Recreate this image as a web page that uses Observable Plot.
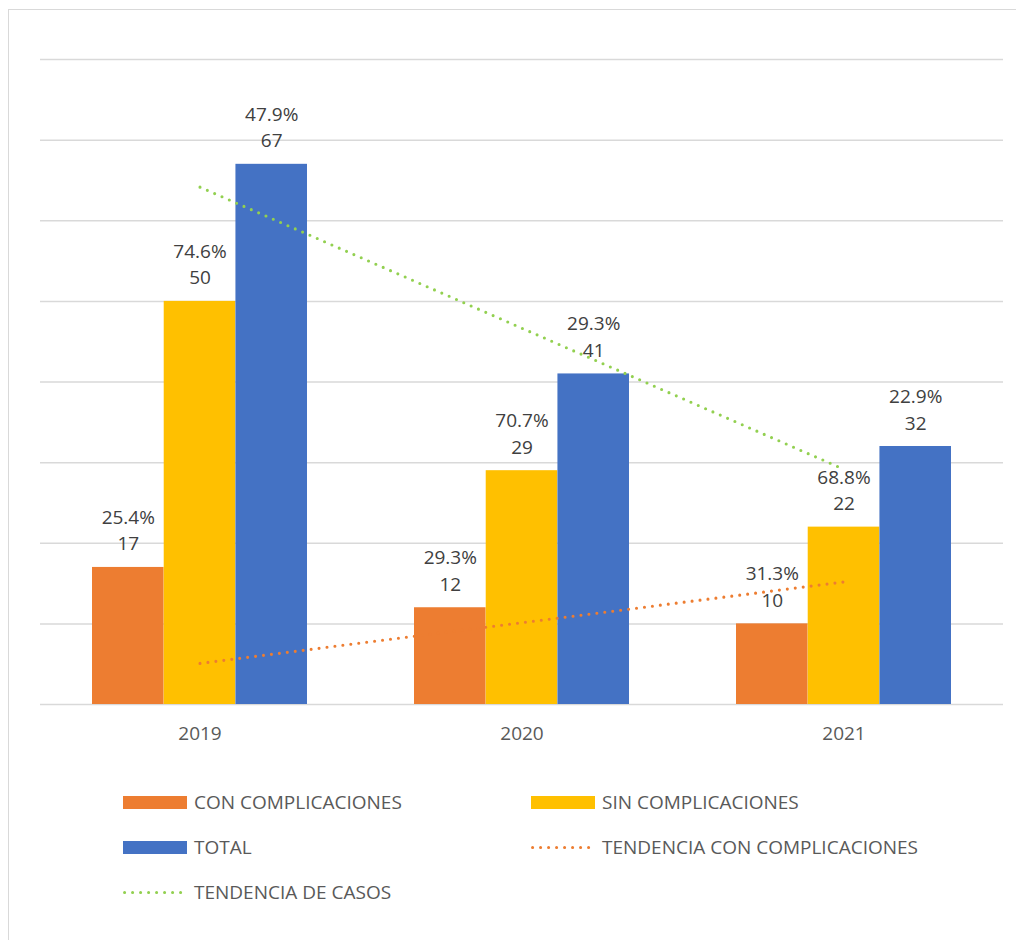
<!DOCTYPE html>
<html>
<head>
<meta charset="utf-8">
<script src="https://cdn.jsdelivr.net/npm/d3@7"></script>
<script src="https://cdn.jsdelivr.net/npm/@observablehq/plot@0.6"></script>
<style>
  html, body { margin: 0; padding: 0; background: #fff; overflow: hidden; }
  body { width: 1016px; height: 940px; position: relative; font-family: "Open Sans", sans-serif; }
  #frame { position: absolute; left: 8px; top: 9px; width: 1200px; height: 1200px; border: 1.5px solid #d9d9d9; box-sizing: border-box; }
  #chart { position: absolute; left: 0; top: 0; }
  .leg { position: absolute; display: flex; align-items: center; font-size: 19px; color: #595959; white-space: nowrap; }
  .leg .sw { width: 64px; height: 13px; margin-right: 7px; flex: none; }
</style>
</head>
<body>
<div id="frame"></div>
<div id="chart"></div>
<div id="legend"></div>
<script>
// ---- data ----
const years = ["2019", "2020", "2021"];
const series = ["CON COMPLICACIONES", "SIN COMPLICACIONES", "TOTAL"];
const conValues = [17, 12, 10];
const sinValues = [50, 29, 22];
const totalValues = [67, 41, 32];
const conPct = ["25.4%", "29.3%", "31.3%"];
const sinPct = ["74.6%", "70.7%", "68.8%"];
const totalPct = ["47.9%", "29.3%", "22.9%"];
const trendConYears = ["2019", "2021"];
const trendConValues = [5.1, 15.2];
const yTicks = [0, 10, 20, 30, 40, 50, 60, 70, 80];
const trendNames = ["TENDENCIA CON COMPLICACIONES", "TENDENCIA DE CASOS"];

// ---- styles ----
const colors = ["#ED7D31", "#FFC000", "#4472C4"];
const trendColors = ["#ED7D31", "#92D050"];
const dotWidth = 3.1;

// ---- build tables ----
const valuesBySeries = [conValues, sinValues, totalValues];
const pctBySeries = [conPct, sinPct, totalPct];
const rows = [];
series.forEach((s, si) => years.forEach((y, yi) => rows.push({
  year: y, serie: s, si, value: valuesBySeries[si][yi], pct: pctBySeries[si][yi]
})));

// linear trend of totals (least squares)
const xi = years.map((_, i) => i);
const mx = d3.mean(xi), my = d3.mean(totalValues);
const slope = d3.sum(xi, (x, i) => (x - mx) * (totalValues[i] - my)) / d3.sum(xi, x => (x - mx) ** 2);
const trendCasos = [0, years.length - 1].map(i => ({year: years[i], v: my + slope * (i - mx)}));
const trendCon = trendConYears.map((y, i) => ({year: y, v: trendConValues[i]}));

// ---- layout ----
const W = 1016, H = 760;
const mL = 40, mR = 13, mT = 59, mB = 56;
const pIn = 0.332, pOut = 0.161;
const step = (W - mL - mR) / (years.length - pIn + 2 * pOut);
const bw = step * (1 - pIn);
const w = bw / series.length;

const marks = [
  Plot.ruleY(yTicks, {stroke: "#d9d9d9", strokeWidth: 1.5}),
  ...series.map((s, si) => Plot.barY(rows.filter(d => d.si === si), {
    x: "year", y: "value", fill: colors[si],
    insetLeft: si * w, insetRight: (series.length - 1 - si) * w
  })),
  ...series.map((s, si) => Plot.text(rows.filter(d => d.si === si), {
    x: "year", y: "value", text: d => d.pct + "\n" + d.value,
    dx: (si - 1) * w, dy: -17, lineAnchor: "bottom", lineHeight: 1.4,
    fontSize: 19, fill: "#404040"
  })),
  Plot.line(trendCon, {x: "year", y: "v", stroke: trendColors[0], strokeWidth: dotWidth,
    strokeDasharray: "0 8", strokeLinecap: "round"}),
  Plot.line(trendCasos, {x: "year", y: "v", stroke: trendColors[1], strokeWidth: dotWidth,
    strokeDasharray: "0 8", strokeLinecap: "round"})
];

const plot = Plot.plot({
  width: W, height: H,
  marginLeft: mL, marginRight: mR, marginTop: mT, marginBottom: mB,
  style: {fontFamily: "Open Sans", fontSize: "19px", color: "#595959", background: "transparent", overflow: "visible"},
  x: {type: "band", domain: years, paddingInner: pIn, paddingOuter: pOut, tickSize: 0, tickPadding: 22, label: null},
  y: {domain: [0, 80], axis: null},
  marks
});
document.getElementById("chart").appendChild(plot);

// ---- legend ----
const legendItems = [
  {name: series[0], kind: "bar", color: colors[0]},
  {name: series[1], kind: "bar", color: colors[1]},
  {name: series[2], kind: "bar", color: colors[2]},
  {name: trendNames[0], kind: "dot", color: trendColors[0]},
  {name: trendNames[1], kind: "dot", color: trendColors[1]}
];
const colX = [123, 531], rowY = [802, 847, 892];
const leg = document.getElementById("legend");
legendItems.forEach((it, i) => {
  const el = document.createElement("div");
  el.className = "leg";
  el.style.left = colX[i % 2] + "px";
  el.style.top = (rowY[Math.floor(i / 2)] - 14) + "px";
  el.style.height = "28px";
  let sw;
  if (it.kind === "bar") {
    sw = `<div class="sw" style="background:${it.color}"></div>`;
  } else {
    sw = `<svg width="64" height="13" style="margin-right:7px;flex:none"><line x1="1.6" y1="6.5" x2="63" y2="6.5" stroke="${it.color}" stroke-width="${dotWidth}" stroke-dasharray="0 8" stroke-linecap="round"/></svg>`;
  }
  el.innerHTML = sw + `<span>${it.name}</span>`;
  leg.appendChild(el);
});
</script>
</body>
</html>
